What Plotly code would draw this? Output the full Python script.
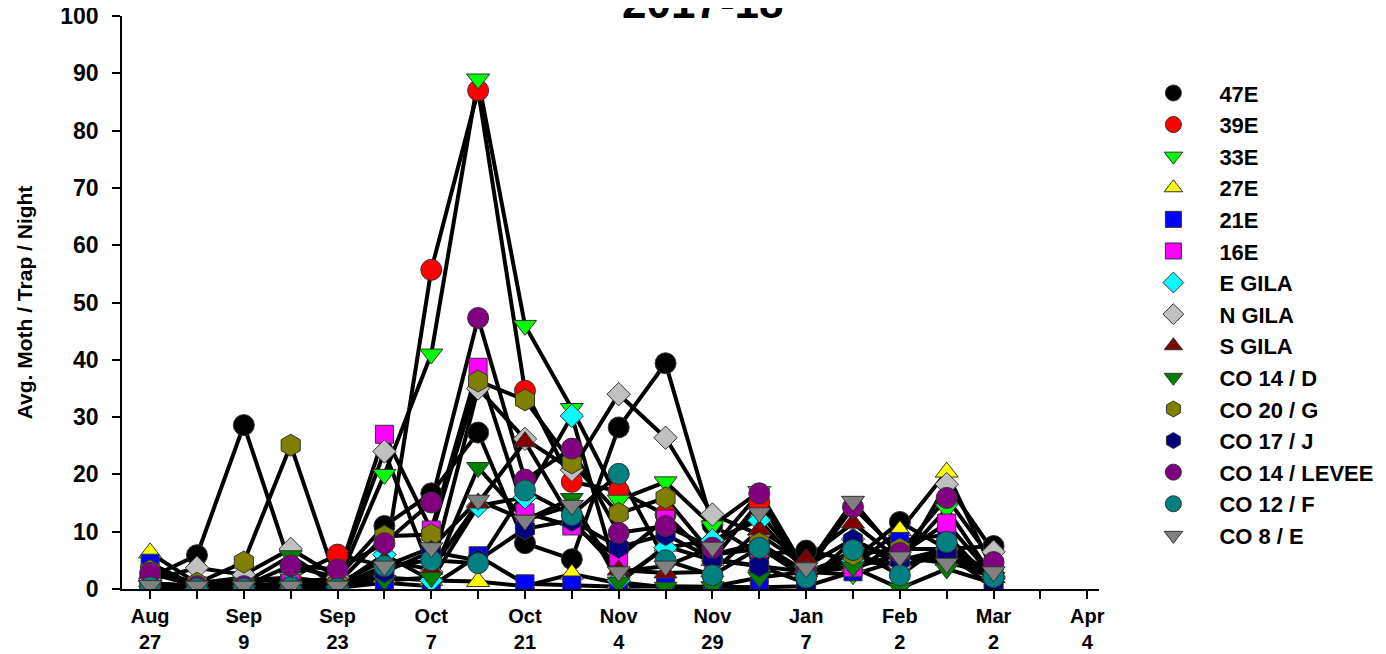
import plotly.graph_objects as go

# ---- data -------------------------------------------------------------
tick_labels = ["Aug<br>27", "", "Sep<br>9", "", "Sep<br>23", "", "Oct<br>7", "", "Oct<br>21", "",
               "Nov<br>4", "", "Nov<br>29", "", "Jan<br>7", "", "Feb<br>2", "", "Mar<br>2", "", "Apr<br>4"]
tick_pos = [0, 1, 2, 3, 4, 5, 6, 7, 8, 9, 10, 11, 12, 13, 14, 15, 16, 17, 18, 19, 20]
sample_pos = [0, 1, 2, 3, 4, 5, 6, 7, 8, 9, 10, 11, 12, 13, 14, 15, 16, 17, 18]

s_47E = [2, 5.9, 28.6, 4, 2, 11, 16.7, 27.3, 8, 5.2, 28.2, 39.4, 11.2, 6, 6.7, 5, 11.7, 7, 7.5]
s_39E = [1, 0.5, 1, 2, 6, 4, 55.7, 87, 34.6, 18.7, 17.1, 13, 5, 15.2, 3, 5, 4, 6, 2]
s_33E = [1, 0.5, 1.5, 2, 1, 20, 41, 89, 46, 31.5, 15.5, 18.7, 11, 17, 3, 2.5, 5, 14, 2]
s_27E = [6.3, 1, 2, 1, 1, 2, 1.5, 1.3, 0.5, 2.6, 1, 7.5, 5, 4, 3, 4, 10.2, 20.4, 3]
s_21E = [4.5, 0.5, 0.5, 0.2, 0.2, 1.1, 0.5, 5.8, 0.9, 0.7, 0.4, 0.5, 0.4, 0.3, 0.5, 3, 8.3, 9.5, 1]
s_16E = [1, 0.5, 0.2, 1, 2, 27, 10.3, 38.7, 13.3, 11, 5.6, 12.2, 6, 7, 3, 3.7, 6, 11.5, 2]
s_EGILA = [0.5, 0.1, 0.5, 1, 0.5, 6, 1.5, 14.5, 16, 30.2, 1.5, 7.2, 8.5, 12, 3, 5, 5, 7, 2]
s_NGILA = [1.5, 3.7, 2.5, 7, 2, 24, 3, 35, 26.2, 20.8, 34, 26.4, 13, 9.5, 4, 8.7, 4, 18.3, 6.5]
s_SGILA = [0.5, 0.1, 0.5, 1, 1, 5, 3.4, 15, 25.7, 12, 3.3, 2.8, 3, 10.3, 5.3, 11.5, 5, 5, 2]
s_CO14D = [0.5, 0.1, 1, 5.8, 0.5, 1.5, 2, 21.2, 12, 15.8, 1.2, 0.3, 0.4, 2, 3, 3.8, 0.1, 3.5, 1]
s_CO20G = [3.2, 1, 4.7, 25.1, 1, 9.2, 9.5, 36.3, 33, 22, 13.2, 15.9, 6, 8, 3, 6, 7, 7, 3]
s_CO17J = [0.5, 0.1, 0.1, 0.5, 0.3, 3, 6.5, 5, 10.5, 12, 7.3, 9.5, 5.3, 4, 1, 8.5, 5, 6.3, 0.2]
s_LEVEE = [2.8, 0.5, 0.5, 4.1, 3.4, 8, 15.1, 47.3, 19.1, 24.5, 9.8, 11, 7.2, 16.7, 3, 14.3, 6.3, 15.9, 4.7]
s_CO12F = [0.3, 0.1, 0.1, 0.3, 0.1, 4, 5, 4.5, 17.2, 12.9, 20.1, 5, 2.4, 7.2, 2, 6.8, 2.4, 8.2, 2.1]
s_CO8E = [0.6, 0.5, 0.5, 0.5, 0.5, 4, 7.2, 15.5, 12, 14.6, 3, 4, 7.3, 13.3, 3.7, 15.3, 5.6, 4.5, 3]

series_names = ["47E", "39E", "33E", "27E", "21E", "16E", "E GILA", "N GILA", "S GILA",
                "CO 14 / D", "CO 20 / G", "CO 17 / J", "CO 14 / LEVEE", "CO 12 / F", "CO 8 / E"]
series_values = [s_47E, s_39E, s_33E, s_27E, s_21E, s_16E, s_EGILA, s_NGILA, s_SGILA,
                 s_CO14D, s_CO20G, s_CO17J, s_LEVEE, s_CO12F, s_CO8E]
chart_title = "2017-18"
y_title = "Avg. Moth / Trap / Night"

# ---- styles -------------------------------------------------------------
symbols = ["circle", "circle", "triangle-down", "triangle-up", "square", "square", "diamond",
           "diamond", "triangle-up", "triangle-down", "hexagon", "hexagon", "circle", "circle",
           "triangle-down"]
colors = ["#000000", "#FF0000", "#00FF00", "#FFFF00", "#0000FF", "#FF00FF", "#00FFFF",
          "#C0C0C0", "#800000", "#008000", "#808000", "#000080", "#800080", "#008080", "#808080"]
size_by_symbol = {"circle": 21, "triangle-down": 20, "triangle-up": 20, "square": 18,
                  "diamond": 18, "hexagon": 22}

fig = go.Figure()

# lines first (under all markers)
for name, vals in zip(series_names, series_values):
    fig.add_trace(go.Scatter(x=sample_pos, y=vals, mode="lines",
                             line=dict(color="black", width=4),
                             showlegend=False, hoverinfo="skip"))

for i, (name, vals) in enumerate(zip(series_names, series_values)):
    fig.add_trace(go.Scatter(
        x=sample_pos, y=vals, mode="markers", name=name, legendgroup=name,
        marker=dict(symbol=symbols[i], color=colors[i], size=size_by_symbol[symbols[i]],
                    line=dict(color="#333333", width=1)),
    ))

font_bold = "Liberation Sans, Arial, sans-serif"
fig.update_layout(
    width=1378, height=646,
    margin=dict(l=114, r=286, t=8, b=65),
    plot_bgcolor="white", paper_bgcolor="white",
    font=dict(family=font_bold, color="black"),
    showlegend=True,
    legend=dict(x=1.028, xanchor="left", y=0.902, yanchor="top",
                font=dict(family=font_bold, size=22, color="black", weight="bold"),
                tracegroupgap=0, itemsizing="trace", itemwidth=82,
                bgcolor="rgba(0,0,0,0)"),
    xaxis=dict(range=[-0.6, 20.25], tickmode="array", tickvals=tick_pos,
               ticktext=["<b>%s</b>" % t if t else "" for t in tick_labels],
               ticks="outside", ticklen=8, tickwidth=1.5, tickcolor="black",
               showline=True, linecolor="black", linewidth=1.5, showgrid=False, zeroline=False,
               tickfont=dict(family=font_bold, size=20, color="black"),
               tickangle=0, automargin=False, ticklabeloverflow="allow"),
    yaxis=dict(range=[0, 100], tickmode="linear", tick0=0, dtick=10,
               ticks="outside", ticklen=8, tickwidth=1.5, tickcolor="black",
               showline=True, linecolor="black", linewidth=1.5, showgrid=False, zeroline=False,
               tickfont=dict(family=font_bold, size=23, color="black", weight="bold"),
               ticklabelstandoff=9, automargin=False, ticklabeloverflow="allow",
               title=dict(text="<b>%s</b>" % y_title, standoff=22,
                          font=dict(family=font_bold, size=21, color="black"))),
)

fig.add_annotation(text="<b>%s</b>" % chart_title, xref="paper", yref="paper",
                   x=0.594, y=1.024, xanchor="center", yanchor="middle", showarrow=False,
                   font=dict(family=font_bold, size=44, color="black"))

fig.write_html("out.html")
